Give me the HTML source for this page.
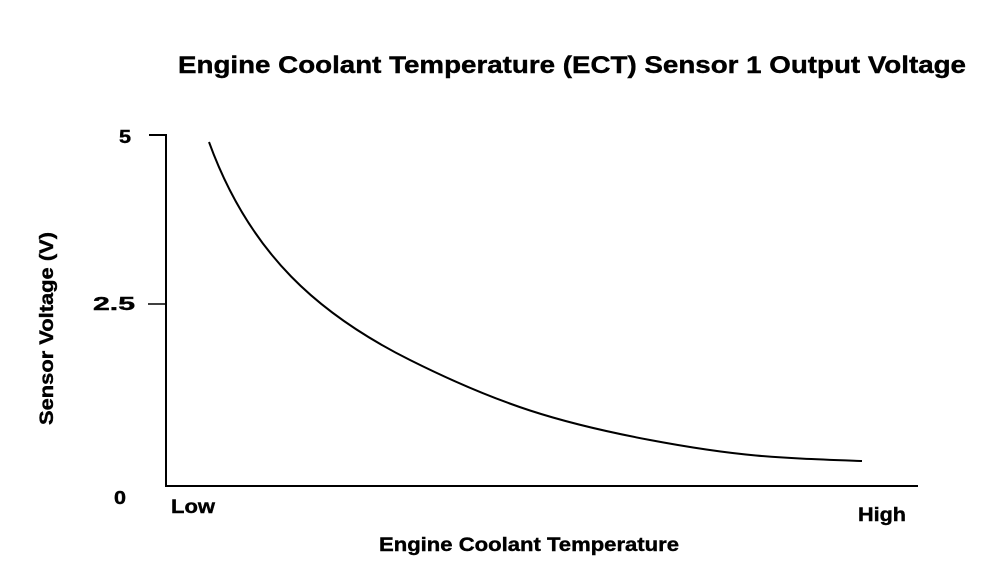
<!DOCTYPE html>
<html><head><meta charset="utf-8"><style>
html,body{margin:0;padding:0;background:#fff;}
svg{display:block;}
text{font-family:"Liberation Sans",Arial,sans-serif;font-weight:bold;fill:#000;stroke:#000;stroke-width:0.4;}
</style></head><body>
<svg width="1008" height="588" viewBox="0 0 1008 588" xmlns="http://www.w3.org/2000/svg">
<text x="178" y="73" font-size="24" textLength="788" lengthAdjust="spacingAndGlyphs">Engine Coolant Temperature (ECT) Sensor 1 Output Voltage</text>
<path d="M149 135 H166 V486 H918" fill="none" stroke="#000" stroke-width="2"/>
<line x1="148" y1="304" x2="166" y2="304" stroke="#000" stroke-width="1.5"/>
<text x="119" y="143" font-size="18" textLength="12" lengthAdjust="spacingAndGlyphs">5</text>
<text x="93" y="310" font-size="18" textLength="42" lengthAdjust="spacingAndGlyphs">2.5</text>
<text x="114" y="504" font-size="18" textLength="12" lengthAdjust="spacingAndGlyphs">0</text>
<text x="171" y="513" font-size="19" textLength="44" lengthAdjust="spacingAndGlyphs">Low</text>
<text x="858" y="521" font-size="19" textLength="48" lengthAdjust="spacingAndGlyphs">High</text>
<text x="379" y="551" font-size="19" textLength="300" lengthAdjust="spacingAndGlyphs">Engine Coolant Temperature</text>
<text transform="translate(53,425) rotate(-90)" font-size="19" textLength="193" lengthAdjust="spacingAndGlyphs">Sensor Voltage (V)</text>
<path d="M209 142 C 250 255, 320 315, 410 360 S 560 423, 650 440 S 780 458, 862 461" fill="none" stroke="#000" stroke-width="2"/>
</svg>
</body></html>
